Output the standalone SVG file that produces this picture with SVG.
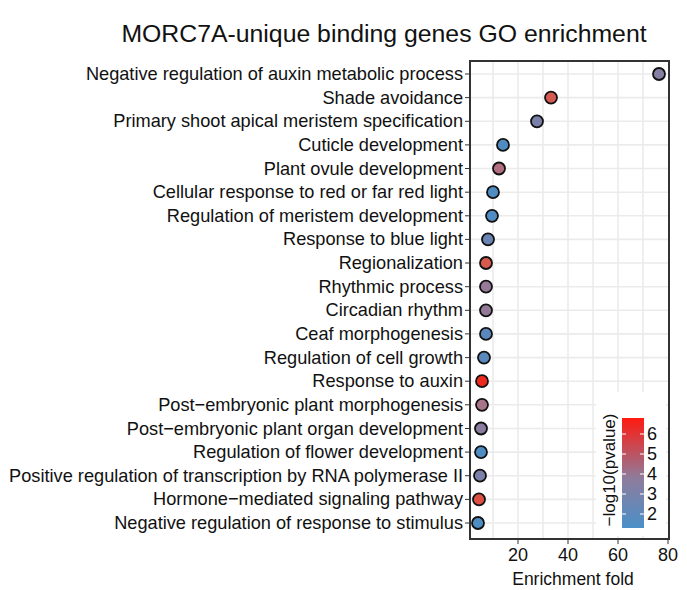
<svg xmlns="http://www.w3.org/2000/svg" width="687" height="590" viewBox="0 0 687 590">
<style>
text{font-family:"Liberation Sans",Arial,sans-serif;fill:#111}
.lab{font-size:18.2px;text-anchor:end}
.g{stroke:#ebebeb;stroke-width:1.6}
.d{stroke:#111;stroke-width:1.8}
.t{stroke:#333;stroke-width:1}
</style>
<defs><linearGradient id="cb" x1="0" y1="1" x2="0" y2="0"><stop offset="0" stop-color="#4a90c8"/><stop offset="0.45" stop-color="#8e7c9c"/><stop offset="1" stop-color="#ff1a10"/></linearGradient></defs>
<rect width="687" height="590" fill="#fff"/>
<text x="384" y="42" font-size="24.8" text-anchor="middle">MORC7A-unique binding genes GO enrichment</text>
<g id="grid">
<path class="g" d="M493 61V539M518 61V539M543 61V539M568 61V539M593 61V539M618 61V539M643 61V539"/>
<path class="g" d="M470 74H669M470 97.6H669M470 121.3H669M470 144.9H669M470 168.5H669M470 192.2H669M470 215.8H669M470 239.4H669M470 263H669M470 286.7H669M470 310.3H669M470 333.9H669M470 357.6H669M470 381.2H669M470 404.8H669M470 428.5H669M470 452.1H669M470 475.7H669M470 499.4H669M470 523H669"/>
</g>
<g id="labels">
<text class="lab" x="463" y="80">Negative regulation of auxin metabolic process</text>
<text class="lab" x="463" y="103.6">Shade avoidance</text>
<text class="lab" x="463" y="127.3">Primary shoot apical meristem specification</text>
<text class="lab" x="463" y="150.9">Cuticle development</text>
<text class="lab" x="463" y="174.5">Plant ovule development</text>
<text class="lab" x="463" y="198.2">Cellular response to red or far red light</text>
<text class="lab" x="463" y="221.8">Regulation of meristem development</text>
<text class="lab" x="463" y="245.4">Response to blue light</text>
<text class="lab" x="463" y="269">Regionalization</text>
<text class="lab" x="463" y="292.7">Rhythmic process</text>
<text class="lab" x="463" y="316.3">Circadian rhythm</text>
<text class="lab" x="463" y="339.9">Ceaf morphogenesis</text>
<text class="lab" x="463" y="363.6">Regulation of cell growth</text>
<text class="lab" x="463" y="387.2">Response to auxin</text>
<text class="lab" x="463" y="410.8">Post−embryonic plant morphogenesis</text>
<text class="lab" x="463" y="434.5">Post−embryonic plant organ development</text>
<text class="lab" x="463" y="458.1">Regulation of flower development</text>
<text class="lab" x="463" y="481.7">Positive regulation of transcription by RNA polymerase II</text>
<text class="lab" x="463" y="505.4">Hormone−mediated signaling pathway</text>
<text class="lab" x="463" y="529">Negative regulation of response to stimulus</text>
<path class="t" d="M465 74H470M465 97.6H470M465 121.3H470M465 144.9H470M465 168.5H470M465 192.2H470M465 215.8H470M465 239.4H470M465 263H470M465 286.7H470M465 310.3H470M465 333.9H470M465 357.6H470M465 381.2H470M465 404.8H470M465 428.5H470M465 452.1H470M465 475.7H470M465 499.4H470M465 523H470"/>
</g>
<g id="dots" class="d">
<circle cx="659" cy="74" r="6" fill="#857fa3"/>
<circle cx="551" cy="97.6" r="6" fill="#d55a52"/>
<circle cx="537" cy="121.3" r="6" fill="#7a80a8"/>
<circle cx="503" cy="144.9" r="6" fill="#4e8cc2"/>
<circle cx="499" cy="168.5" r="6" fill="#b26e80"/>
<circle cx="493" cy="192.2" r="6" fill="#4e8cc2"/>
<circle cx="492" cy="215.8" r="6" fill="#4f8cc3"/>
<circle cx="488" cy="239.4" r="6" fill="#6a84b4"/>
<circle cx="486" cy="263" r="6" fill="#d85a4c"/>
<circle cx="486" cy="286.7" r="6" fill="#977a98"/>
<circle cx="486" cy="310.3" r="6" fill="#947a98"/>
<circle cx="486" cy="333.9" r="6" fill="#5a88bd"/>
<circle cx="484" cy="357.6" r="6" fill="#5a88bd"/>
<circle cx="482" cy="381.2" r="6" fill="#ee2a1e"/>
<circle cx="482" cy="404.8" r="6" fill="#a7748a"/>
<circle cx="481" cy="428.5" r="6" fill="#8a7d9f"/>
<circle cx="481" cy="452.1" r="6" fill="#4e8cc2"/>
<circle cx="480" cy="475.7" r="6" fill="#7a80a8"/>
<circle cx="479" cy="499.4" r="6" fill="#dc4f42"/>
<circle cx="478" cy="523" r="6" fill="#4e8cc2"/>
</g>
<rect x="470" y="61" width="199" height="478" fill="none" stroke="#333" stroke-width="2"/>
<g id="xaxis">
<path class="t" d="M518 539V544M568 539V544M618 539V544M668 539V544"/>
<text x="518" y="561" font-size="18" text-anchor="middle">20</text>
<text x="568" y="561" font-size="18" text-anchor="middle">40</text>
<text x="618" y="561" font-size="18" text-anchor="middle">60</text>
<text x="668" y="561" font-size="18" text-anchor="middle">80</text>
<text x="573" y="585" font-size="17.5" text-anchor="middle">Enrichment fold</text>
</g>
<g id="legend">
<rect x="596" y="392" width="70" height="144" fill="#fff"/>
<rect x="622" y="418" width="22" height="110" fill="url(#cb)"/>
<path stroke="#fff" stroke-width="1.2" d="M622 514H626M640 514H644M622 494H626M640 494H644M622 474H626M640 474H644M622 454H626M640 454H644M622 434H626M640 434H644"/>
<text x="647" y="520" font-size="18">2</text>
<text x="647" y="500" font-size="18">3</text>
<text x="647" y="480" font-size="18">4</text>
<text x="647" y="460" font-size="18">5</text>
<text x="647" y="440" font-size="18">6</text>
<text transform="translate(615 470) rotate(-90)" font-size="17" text-anchor="middle">−log10(pvalue)</text>
</g>
</svg>
